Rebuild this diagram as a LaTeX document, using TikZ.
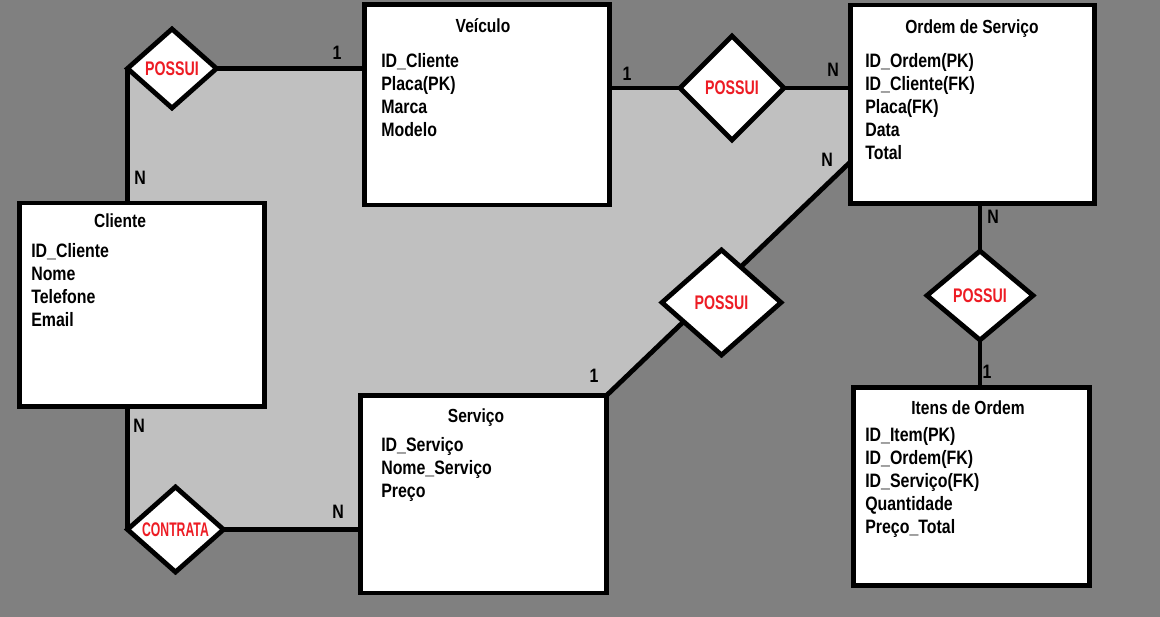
\documentclass[tikz,border=0pt]{standalone}
\usepackage{fontspec}
\newfontfamily\erfont{Liberation Sans}[FakeStretch=0.82]
\newfontfamily\relfont{Liberation Sans}[FakeStretch=0.72]
\newfontfamily\relnarrow{Liberation Sans}[FakeStretch=0.62]
\usetikzlibrary{shapes.geometric,calc,backgrounds}
\definecolor{bggray}{RGB}{128,128,128}
\definecolor{areagray}{RGB}{192,192,192}
\definecolor{relred}{RGB}{237,28,36}

\begin{document}
\begin{tikzpicture}[
    x=0.025cm, y=-0.025cm,
    entity/.style={draw, line width=3.4pt, fill=white, inner sep=0pt, outer sep=0pt},
    rel/.style={draw, diamond, line width=3.4pt, fill=white, inner sep=0pt, outer sep=0pt,
                font=\relfont\bfseries\fontsize{14}{16}\selectfont, text=relred},
    title/.style={anchor=base, inner sep=0pt, font=\erfont\bfseries\fontsize{13.5}{16}\selectfont},
    attrs/.style={anchor=north west, inner sep=0pt, align=left,
                  font=\erfont\bfseries\fontsize{13.8}{16.3}\selectfont},
    card/.style={inner sep=0pt, font=\erfont\bfseries\fontsize{13.8}{16}\selectfont},
    conn/.style={line width=3.4pt}
  ]
    \useasboundingbox (0,0) rectangle (1160,617);

    % entidades
    \node[entity, minimum width=6.125cm, minimum height=5.0125cm] (veic)  at (487,104.75)  {};
    \node[entity, minimum width=6.1cm,   minimum height=4.9625cm] (ordem) at (972.5,104.25) {};
    \node[entity, minimum width=6.125cm, minimum height=5.0875cm] (cli)   at (142,304.75)  {};
    \node[entity, minimum width=6.15cm,  minimum height=4.9375cm] (serv)  at (483.5,494.25) {};
    \node[entity, minimum width=5.9cm,   minimum height=4.95cm]   (itens) at (971.5,486.5)  {};

    \node[title] (veict)  at (483,33)    {Veículo};
    \node[title] (ordemt) at (972,33.5)  {Ordem de Serviço};
    \node[title] (clit)   at (120,228)   {Cliente};
    \node[title] (servt)  at (476,422.5) {Serviço};
    \node[title] (itenst) at (968,414)   {Itens de Ordem};

    \node[attrs] (veica)  at (381,53)  {ID\_Cliente\\Placa(PK)\\Marca\\Modelo};
    \node[attrs] (ordema) at (865,53)  {ID\_Ordem(PK)\\ID\_Cliente(FK)\\Placa(FK)\\Data\\Total};
    \node[attrs] (clia)   at (31,243)  {ID\_Cliente\\Nome\\Telefone\\Email};
    \node[attrs] (serva)  at (381,437) {ID\_Serviço\\Nome\_Serviço\\Preço};
    \node[attrs] (itensa) at (865,427) {ID\_Item(PK)\\ID\_Ordem(FK)\\ID\_Serviço(FK)\\Quantidade\\Preço\_Total};

    % relacionamentos
    \node[rel, minimum width=2.225cm, minimum height=1.975cm] (d1) at (172,68.5) {POSSUI};
    \node[rel, minimum width=2.6cm,   minimum height=2.6cm]   (d2) at (732,88)     {POSSUI};
    \node[rel, minimum width=2.975cm, minimum height=2.625cm] (d3) at (721.5,302.5) {POSSUI};
    \node[rel, minimum width=2.65cm,  minimum height=2.225cm] (d4) at (980,295.5)  {POSSUI};
    \node[rel, minimum width=2.4cm,   minimum height=2.125cm,
          font=\relnarrow\bfseries\fontsize{14}{16}\selectfont] (d5) at (175.5,529.5) {CONTRATA};

    % cardinalidades
    \node[card] (c1)  at (337,53)  {1};
    \node[card] (c2)  at (140,178) {N};
    \node[card] (c3)  at (627,74)  {1};
    \node[card] (c4)  at (833,70)  {N};
    \node[card] (c5)  at (827,160) {N};
    \node[card] (c6)  at (594,376) {1};
    \node[card] (c7)  at (993,217) {N};
    \node[card] (c8)  at (987,372) {1};
    \node[card] (c9)  at (139,426) {N};
    \node[card] (c10) at (338,512) {N};

    \begin{scope}[on background layer]
      \fill[bggray] (0,0) rectangle (1160,617);
      \coordinate (ordin) at ($(ordem.north west)!0.79!(ordem.south west)$);
      \fill[areagray] (d1.west) -- (d1.west -| veic.west) -- (d2.west -| veic.west)
        -- (d2.east -| ordem.west) -- (ordin) -- (serv.north east) -- (serv.north west)
        -- (d5.west -| serv.west) -- (d5.west) -- cycle;

      \draw[conn] (d1.west) -- (d1.west |- cli.north);
      \draw[conn] (d1.east) -- (d1.east -| veic.west);
      \draw[conn] (d2.west -| veic.east) -- (d2.west);
      \draw[conn] (d2.east) -- (d2.east -| ordem.west);
      \draw[conn] (serv.north east) -- (ordin);
      \draw[conn] (d4.north |- ordem.south) -- (d4.north);
      \draw[conn] (d4.south) -- (d4.south |- itens.north);
      \draw[conn] (d5.west |- cli.south) -- (d5.west);
      \draw[conn] (d5.east) -- (d5.east -| serv.west);
    \end{scope}
  \end{tikzpicture}
\end{document}
